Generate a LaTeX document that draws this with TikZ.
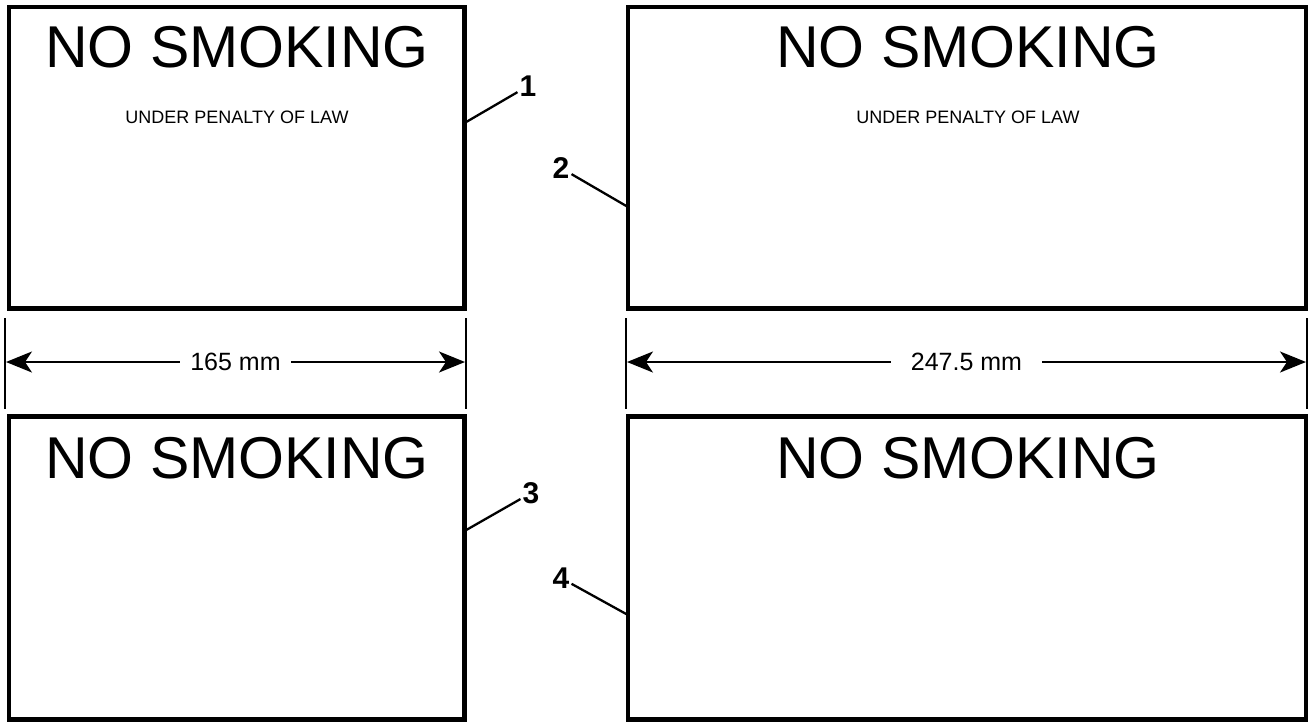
\documentclass[tikz,border=0pt]{standalone}
\usepackage{fontspec}
\setmainfont{Liberation Sans}
\usetikzlibrary{arrows.meta}

\begin{document}
\begin{tikzpicture}[x=1pt,y=1pt,yscale=-1,xscale=1,
	signbox/.style={draw,line width=4.5pt,inner sep=0pt},
	bigtext/.style={inner sep=0pt,font=\fontsize{59}{60}\selectfont},
	smalltext/.style={inner sep=0pt,font=\fontsize{18}{20}\selectfont},
	numlabel/.style={inner sep=2pt,font=\bfseries\fontsize{30}{32}\selectfont},
	leader/.style={line width=2.3pt},
	tickline/.style={line width=2.2pt},
	dimline/.style={line width=2.2pt,{Stealth[length=26pt,width=21pt,inset=7pt]}-{Stealth[length=26pt,width=21pt,inset=7pt]}},
	dimtext/.style={fill=white,inner ysep=2pt,font=\fontsize{25}{26}\selectfont}]
	\useasboundingbox (0,0) rectangle (1310,721);
	
	%Shape: Rectangle [id:top left sign]
	\node [signbox,minimum width=455.5pt,minimum height=301.5pt] (tl) at (236.75,157.75) {};
	%Shape: Rectangle [id:top right sign]
	\node [signbox,minimum width=678pt,minimum height=301.5pt] (tr) at (967,157.75) {};
	%Shape: Rectangle [id:bottom left sign]
	\node [signbox,minimum width=455.5pt,minimum height=303pt] (bl) at (236.75,568) {};
	%Shape: Rectangle [id:bottom right sign]
	\node [signbox,minimum width=678pt,minimum height=303pt] (br) at (967,568) {};
	
	% Text Node
	\node [bigtext] (tlhead) at (237,47) {NO SMOKING};
	% Text Node
	\node [smalltext] (tlsub) at (237,117.5) {UNDER PENALTY OF LAW};
	% Text Node
	\node [bigtext] (trhead) at (968,47) {NO SMOKING};
	% Text Node
	\node [smalltext] (trsub) at (968,117.5) {UNDER PENALTY OF LAW};
	% Text Node
	\node [bigtext] (blhead) at (237,458) {NO SMOKING};
	% Text Node
	\node [bigtext] (brhead) at (968,458) {NO SMOKING};
	
	%Straight Lines [id:leaders]
	\node [numlabel] (n1) at (528,86) {1};
	\coordinate (p1) at (464.5,123);
	\draw [leader] (p1) -- (n1);
	\node [numlabel] (n2) at (561,168) {2};
	\coordinate (p2) at (628,207);
	\draw [leader] (p2) -- (n2);
	\node [numlabel] (n3) at (531,493) {3};
	\coordinate (p3) at (464.5,531);
	\draw [leader] (p3) -- (n3);
	\node [numlabel] (n4) at (561,578) {4};
	\coordinate (p4) at (628,615);
	\draw [leader] (p4) -- (n4);
	
	%Straight Lines [id:dimension 165]
	\coordinate (a1) at (5,318);
	\coordinate (a2) at (5,409);
	\coordinate (a3) at (466,318);
	\coordinate (a4) at (466,409);
	\draw [tickline] (a1) -- (a2);
	\draw [tickline] (a3) -- (a4);
	\coordinate (d1l) at (6,362);
	\coordinate (d1r) at (465,362);
	\draw [dimline] (d1l) -- (d1r) node [dimtext,inner xsep=10pt,midway] (w1) {165 mm};
	
	%Straight Lines [id:dimension 247.5]
	\coordinate (b1) at (626,318);
	\coordinate (b2) at (626,409);
	\coordinate (b3) at (1307,318);
	\coordinate (b4) at (1307,409);
	\draw [tickline] (b1) -- (b2);
	\draw [tickline] (b3) -- (b4);
	\coordinate (d2l) at (627,362);
	\coordinate (d2r) at (1306,362);
	\draw [dimline] (d2l) -- (d2r) node [dimtext,inner xsep=20pt,midway] (w2) {247.5 mm};
	
\end{tikzpicture}
\end{document}
